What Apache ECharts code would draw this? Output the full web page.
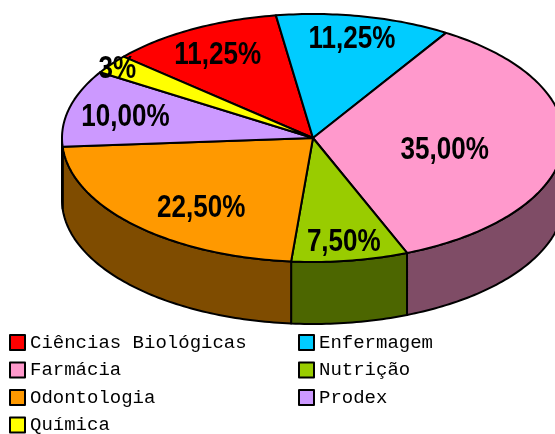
<!DOCTYPE html>
<html>
<head>
<meta charset="utf-8">
<script src="https://cdn.jsdelivr.net/npm/echarts@6/dist/echarts.min.js"></script>
<style>
  html, body { margin: 0; padding: 0; background: #fff; }
  #chart { width: 555px; height: 434px; }
</style>
</head>
<body>
<div id="chart"></div>
<script>
// dados do gráfico
const categories = ["Ciências Biológicas", "Enfermagem", "Farmácia", "Nutrição", "Odontologia", "Prodex", "Química"];
const shares = [11.25, 11.25, 35, 7.5, 22.5, 10, 2.5];
const shareLabels = ["11,25%", "11,25%", "35,00%", "7,50%", "22,50%", "10,00%", "3%"];

// estilo
const topColors = ["#FF0000", "#00CCFF", "#FF99CC", "#99CC00", "#FF9900", "#CC99FF", "#FFFF00"];
const sideColors = ["#800000", "#006680", "#7F4C66", "#4C6600", "#7F4C00", "#664C80", "#808000"];
const labelRadius = [0.79, 0.83, 0.53, 0.83, 0.70, 0.77, 0.97];
const labelTurn = [0, -1, 3, 0, -6, 0, 0];

const legendLeft = ["Ciências Biológicas", "Farmácia", "Odontologia", "Química"];
const legendRight = ["Enfermagem", "Nutrição", "Prodex"];

const cx = 313, cy = 138, rx = 251, ry = 124, depth = 62;
const startDeg = -49;

const total = shares.reduce((a, b) => a + b, 0);
const starts = [];
let acc = startDeg;
shares.forEach(v => { starts.push(acc); acc += v / total * 360; });

function pt(deg, dy) {
  const r = deg * Math.PI / 180;
  return [cx + rx * Math.sin(r), cy - ry * Math.cos(r) + (dy || 0)];
}

function renderItem(params, api) {
  const i = params.dataIndex;
  const a0 = starts[i];
  const a1 = a0 + api.value(1) / total * 360;
  const children = [];

  // lateral (só a metade da frente, 90..270)
  let s = a0, e = a1;
  while (s < 0) { s += 360; e += 360; }
  const lo = Math.max(s, 90), hi = Math.min(e, 270);
  if (hi > lo) {
    const side = [];
    for (let d = lo; d <= hi; d += 1) side.push(pt(d));
    side.push(pt(hi));
    for (let d = hi; d >= lo; d -= 1) side.push(pt(d, depth));
    side.push(pt(lo, depth));
    children.push({
      type: "polygon",
      shape: { points: side },
      style: { fill: sideColors[i], stroke: "#000", lineWidth: 2, lineJoin: "round" },
      z2: 1
    });
  }

  // face de cima
  const top = [[cx, cy]];
  for (let d = a0; d < a1; d += 1) top.push(pt(d));
  top.push(pt(a1));
  children.push({
    type: "polygon",
    shape: { points: top },
    style: { fill: topColors[i], stroke: "#000", lineWidth: 2, lineJoin: "round" },
    z2: 2
  });

  // rótulo
  const mid = (a0 + a1) / 2 + labelTurn[i];
  const rad = mid * Math.PI / 180;
  children.push({
    type: "text",
    x: cx + rx * labelRadius[i] * Math.sin(rad),
    y: cy - ry * labelRadius[i] * Math.cos(rad) + 3,
    scaleX: 0.84,
    style: {
      text: shareLabels[i],
      fill: "#000",
      font: "bold 31px 'Liberation Sans', Arial, sans-serif",
      align: "center",
      verticalAlign: "middle"
    },
    z2: 10
  });

  return { type: "group", children: children };
}

const chart = echarts.init(document.getElementById("chart"));

const legendBase = {
  orient: "vertical",
  top: 333,
  height: 110,
  padding: 0,
  itemWidth: 15,
  itemHeight: 15,
  itemGap: 8.5,
  icon: "rect",
  itemStyle: { borderColor: "#000", borderWidth: 2 },
  textStyle: { fontFamily: "Liberation Mono", fontSize: 19, color: "#000" },
  selectedMode: false
};

chart.setOption({
  animation: false,
  color: topColors,
  legend: [
    Object.assign({}, legendBase, { left: 9, data: legendLeft }),
    Object.assign({}, legendBase, { left: 298, data: legendRight })
  ],
  series: [
    {
      // só para a legenda
      type: "pie",
      radius: [0, 0],
      silent: true,
      label: { show: false },
      labelLine: { show: false },
      data: categories.map((c, i) => ({ name: c, value: shares[i] }))
    },
    {
      type: "custom",
      coordinateSystem: "none",
      renderItem: renderItem,
      silent: true,
      data: categories.map((c, i) => [i, shares[i]])
    }
  ]
});
</script>
</body>
</html>
